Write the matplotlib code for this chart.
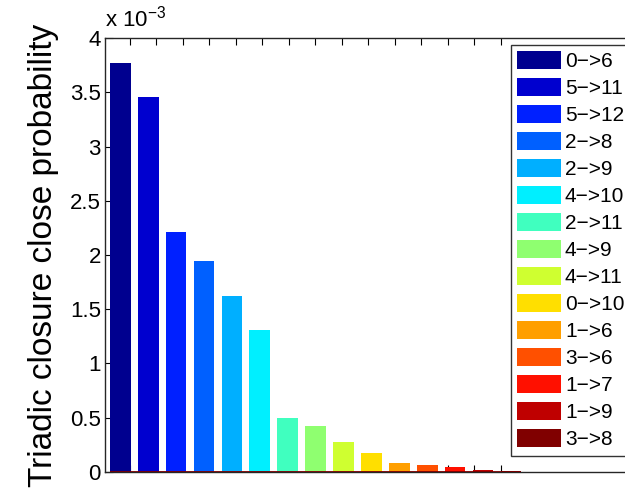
import numpy as np
import matplotlib
matplotlib.use("Agg")
from matplotlib import pyplot as plt
import matplotlib.ticker as ticker

plt.rcParams['font.family'] = ['Liberation Sans', 'DejaVu Sans']
plt.rcParams['mathtext.fontset'] = 'custom'
plt.rcParams['mathtext.rm'] = 'Liberation Sans'

# transitions and their closure probability (in units of 1e-3)
labels = ["0\u2212>6", "5\u2212>11", "5\u2212>12", "2\u2212>8", "2\u2212>9",
          "4\u2212>10", "2\u2212>11", "4\u2212>9", "4\u2212>11", "0\u2212>10",
          "1\u2212>6", "3\u2212>6", "1\u2212>7", "1\u2212>9", "3\u2212>8"]
values = [3.775, 3.46, 2.215, 1.942, 1.624, 1.311, 0.498, 0.425, 0.277,
          0.175, 0.083, 0.059, 0.043, 0.016, 0.005]
yticks = [0, 0.5, 1, 1.5, 2, 2.5, 3, 3.5, 4]

# MATLAB jet(64) rows picked for 15 series
colors = ['#00008F', '#0000CF', '#0020FF', '#0060FF', '#00AFFF', '#00EFFF',
          '#40FFBF', '#8FFF70', '#CFFF30', '#FFDF00', '#FF9F00', '#FF5000',
          '#FF1000', '#BF0000', '#800000']

fig = plt.figure(figsize=(6.25, 4.9), dpi=100)
ax = fig.add_axes([105 / 625, (490 - 471.7) / 490, 531 / 625, (471.7 - 38.3) / 490])

width = 0.74
x = np.arange(1, len(values) + 1)
for i in range(len(values)):
    ax.bar(x[i], values[i], width=width, color=colors[i], label=labels[i],
           edgecolor='none', zorder=2)
# zero-height stacked segments show up as a thin dark red line along the base
ax.hlines(0, x[0] - width / 2, x[-1] + width / 2, color='#7a0000',
          linewidth=1.3, zorder=3)

ax.set_xlim(0.452, 19.48)
ax.set_ylim(0, 4)
ax.set_xticks(1.348 + 0.949 * np.arange(len(values)))
ax.xaxis.set_major_formatter(ticker.NullFormatter())
ax.set_yticks(yticks)
ax.yaxis.set_major_formatter(ticker.FormatStrFormatter('%g'))
ax.tick_params(axis='x', direction='in', top=True, bottom=True, length=5, width=0.8)
ax.tick_params(axis='y', direction='in', left=True, right=False, length=6, width=0.8,
               labelsize=16, pad=3)
for s in ax.spines.values():
    s.set_color('#262626')
    s.set_linewidth(1.0)

ax.set_ylabel('Triadic closure close probability', fontsize=24, labelpad=8)
ax.text(0.0, 1.015, r'x 10$^{\mathregular{-3}}$', transform=ax.transAxes,
        fontsize=16, ha='left', va='bottom')

leg = ax.legend(loc='upper right', bbox_to_anchor=(0.99, 0.985), fontsize=15,
                frameon=True, fancybox=False, handlelength=2.1, handleheight=0.98,
                labelspacing=0.32, handletextpad=0.2, borderpad=0.3, borderaxespad=0)
leg.get_frame().set_edgecolor('black')
leg.get_frame().set_linewidth(1.0)

plt.savefig('out.png')
plt.close()
